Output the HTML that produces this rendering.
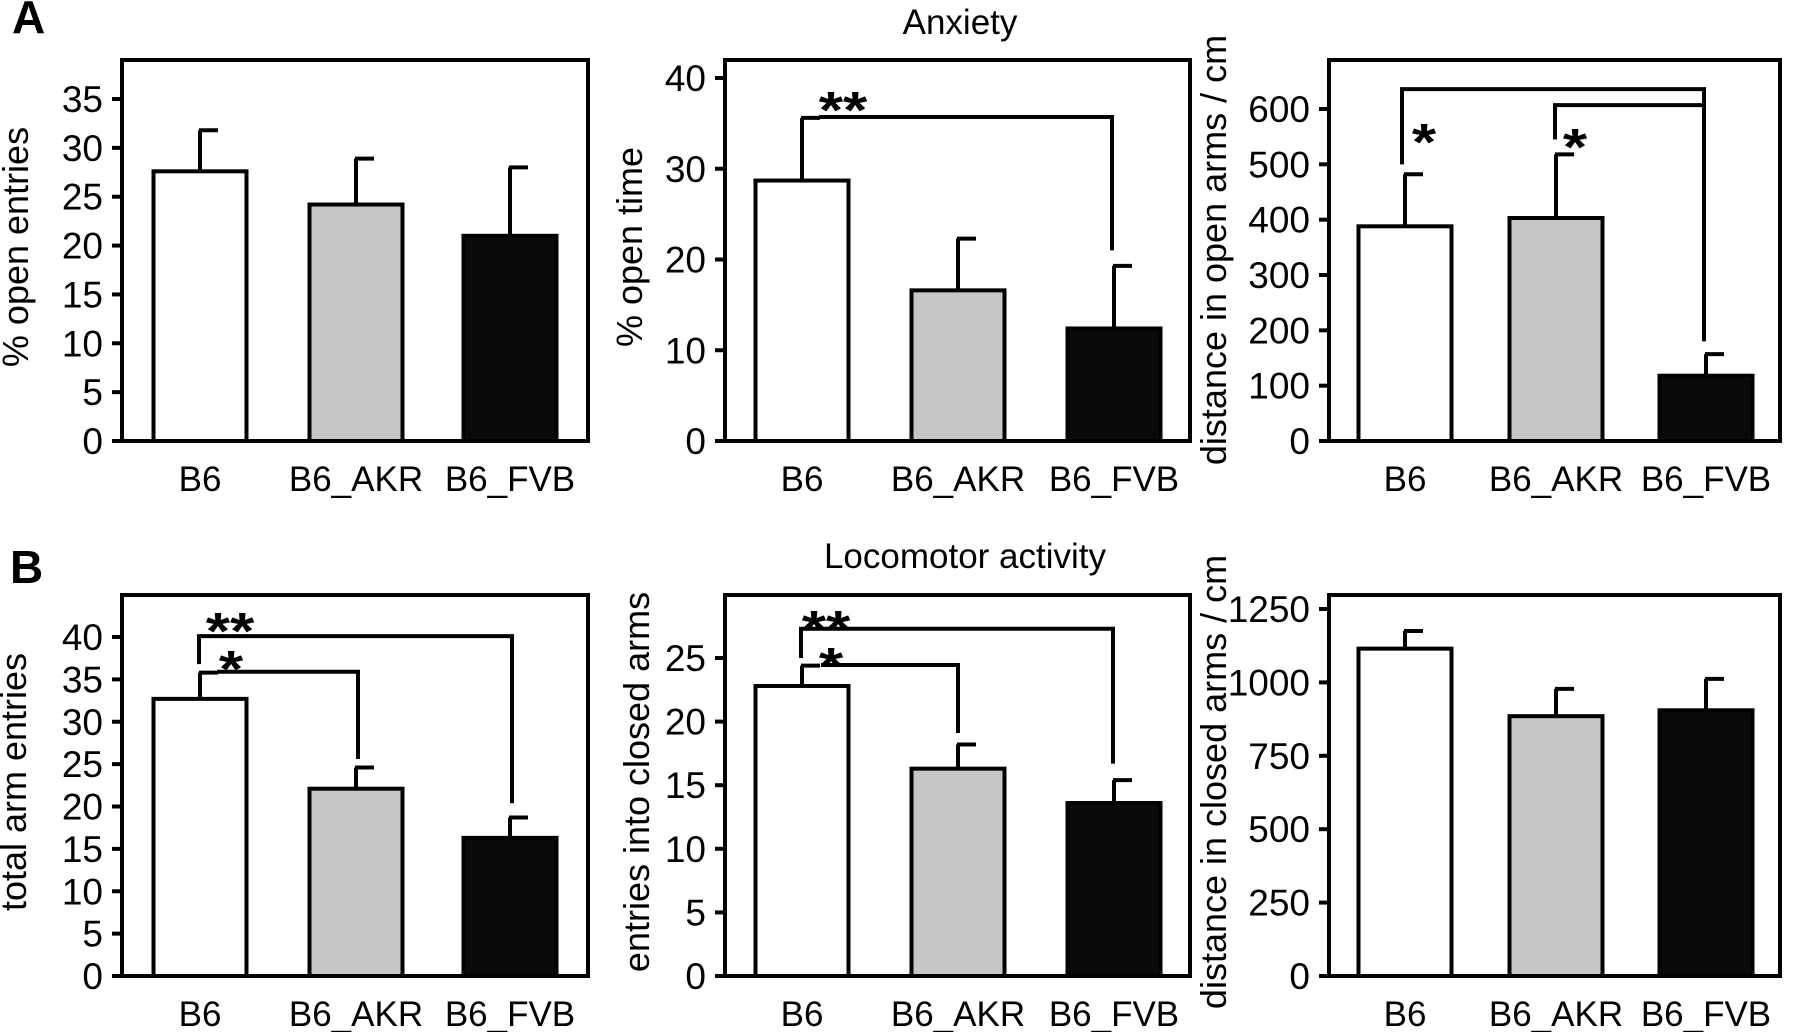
<!DOCTYPE html>
<html><head><meta charset="utf-8"><style>
html,body{margin:0;padding:0;background:#fff;}
svg{display:block;font-family:"Liberation Sans",Arial,sans-serif;}
</style></head><body>
<svg id="fig" width="1800" height="1032" viewBox="0 0 1800 1032" xmlns="http://www.w3.org/2000/svg">
<text x="12" y="33" font-size="46" font-weight="bold">A</text>
<text x="10" y="583" font-size="46" font-weight="bold">B</text>
<text x="960" y="34" font-size="35" text-anchor="middle">Anxiety</text>
<text x="965" y="568" font-size="35" text-anchor="middle">Locomotor activity</text>
</svg>
<script>
const categories = ["B6", "B6_AKR", "B6_FVB"];
const fills = ["#ffffff", "#c6c6c6", "#0a0a0a"];
const openEntriesMean = [27.6, 24.2, 21.0];
const openEntriesErr = [31.8, 28.9, 28.0];
const openTimeMean = [28.7, 16.6, 12.4];
const openTimeErr = [35.6, 22.3, 19.3];
const openDistMean = [388, 403, 118];
const openDistErr = [482, 518, 157];
const totalEntriesMean = [32.7, 22.1, 16.3];
const totalEntriesErr = [35.8, 24.6, 18.7];
const closedEntriesMean = [22.8, 16.3, 13.6];
const closedEntriesErr = [24.4, 18.2, 15.4];
const closedDistMean = [1115, 885, 905];
const closedDistErr = [1175, 978, 1012];
const ticksA1 = [0,5,10,15,20,25,30,35];
const ticksA2 = [0,10,20,30,40];
const ticksA3 = [0,100,200,300,400,500,600];
const ticksB1 = [0,5,10,15,20,25,30,35,40];
const ticksB2 = [0,5,10,15,20,25];
const ticksB3 = [0,250,500,750,1000,1250];

const NS = "http://www.w3.org/2000/svg";
const svg = document.getElementById("fig");
function mk(tag, attrs, parent){
  const e = document.createElementNS(NS, tag);
  for (const k in attrs) e.setAttribute(k, attrs[k]);
  (parent||svg).appendChild(e);
  return e;
}

function panel(p){
  const g = mk("g", {});
  
  
  const y = v => p.bottom - v / p.max * (p.bottom - p.top0);
  categories.forEach((c, i) => {
    const w = 93;
    const center = p.centers[i];
    const r = mk("rect", {x: center - w/2, y: y(p.mean[i]), width: w, height: p.bottom - y(p.mean[i]), fill: fills[i], stroke: "#000", "stroke-width": 4}, g);
    
    
    const e = mk("path", {d: `M${center} ${y(p.mean[i])} V${y(p.err[i])} M${center-1} ${y(p.err[i])} H${center+18}`, stroke: "#000", "stroke-width": 4, fill: "none"}, g);
    
    
    const t = mk("text", {x: center, y: p.bottom + 50, "font-size": 35, "text-anchor": "middle"}, g);
    t.textContent = c;
    
    
  });
  const f = mk("path", {d: `M${p.left} ${p.bottom} V${p.top} H${p.right} V${p.bottom} H${p.left-10}`, stroke: "#000", "stroke-width": 4, fill: "none"}, g);
  
  
  p.ticks.forEach(v => {
    const tk = mk("line", {x1: p.left - 10, x2: p.left, y1: y(v), y2: y(v), stroke: "#000", "stroke-width": 4}, g);
    
    
    const tl = mk("text", {x: p.left - 19, y: y(v) + 13, "font-size": 37, "text-anchor": "end"}, g);
    tl.textContent = v;
    
    
  });
  const yl = mk("text", {x: 0, y: 0, "font-size": 36, "text-anchor": "middle", transform: `translate(${p.ylx + 2},${p.yly}) rotate(-90)`}, g);
  yl.textContent = p.ylabel;
  
  
  (p.brackets || []).forEach(b => {
    const br = mk("path", {d: `M${b.x1} ${y(b.d1)} V${y(b.lv)} H${b.x2} V${y(b.d2)}`, stroke: "#000", "stroke-width": 4, fill: "none"}, g);
    
    
    const st = mk("text", {x: 0, y: 0, transform: `translate(${b.sx},${b.sy + 8}) scale(1.2,1)`, "font-size": 52, "font-weight": "bold", "text-anchor": "middle"}, g);
    st.textContent = b.star;
    
    
  });
}

const cA = [200, 356, 510];
const cM = [802, 958, 1114];
const cR = [1405, 1556, 1706];

panel({name:"open-entries-chart", left:122, right:588, top:60, bottom:441, top0:99, max:35, centers:cA, mean:openEntriesMean, err:openEntriesErr, ticks:ticksA1, ylabel:"% open entries", ylx:26, yly:247});
panel({name:"open-time-chart", left:725, right:1190, top:60, bottom:441, top0:78, max:40, centers:cM, mean:openTimeMean, err:openTimeErr, ticks:ticksA2, ylabel:"% open time", ylx:640, yly:247,
  brackets:[{x1:819, d1:35.7, lv:35.7, x2:1112, d2:21.0, star:"**", sx:843, sy:120}]});
panel({name:"open-distance-chart", left:1329, right:1780, top:60, bottom:441, top0:109, max:600, centers:cR, mean:openDistMean, err:openDistErr, ticks:ticksA3, ylabel:"distance in open arms / cm", ylx:1224, yly:250,
  brackets:[{x1:1402, d1:500, lv:636, x2:1704, d2:180, star:"*", sx:1424, sy:152},
            {x1:1555, d1:545, lv:607, x2:1704, d2:607, star:"*", sx:1575, sy:157}]});
panel({name:"total-arm-entries-chart", left:122, right:588, top:595, bottom:976, top0:637, max:40, centers:cA, mean:totalEntriesMean, err:totalEntriesErr, ticks:ticksB1, ylabel:"total arm entries", ylx:24, yly:782,
  brackets:[{x1:199, d1:36.8, lv:40.1, x2:512, d2:20.4, star:"**", sx:230, sy:641},
            {x1:217, d1:35.9, lv:35.9, x2:358, d2:25.6, star:"*", sx:231, sy:679}]});
panel({name:"closed-entries-chart", left:725, right:1190, top:595, bottom:976, top0:658, max:25, centers:cM, mean:closedEntriesMean, err:closedEntriesErr, ticks:ticksB2, ylabel:"entries into closed arms", ylx:647, yly:782,
  brackets:[{x1:801, d1:25.0, lv:27.3, x2:1113, d2:16.7, star:"**", sx:826, sy:639},
            {x1:821, d1:24.45, lv:24.45, x2:958, d2:19.1, star:"*", sx:831, sy:676}]});
panel({name:"closed-distance-chart", left:1329, right:1780, top:595, bottom:976, top0:609, max:1250, centers:cR, mean:closedDistMean, err:closedDistErr, ticks:ticksB3, ylabel:"distance in closed arms / cm", ylx:1224, yly:782});
</script>
</body></html>
